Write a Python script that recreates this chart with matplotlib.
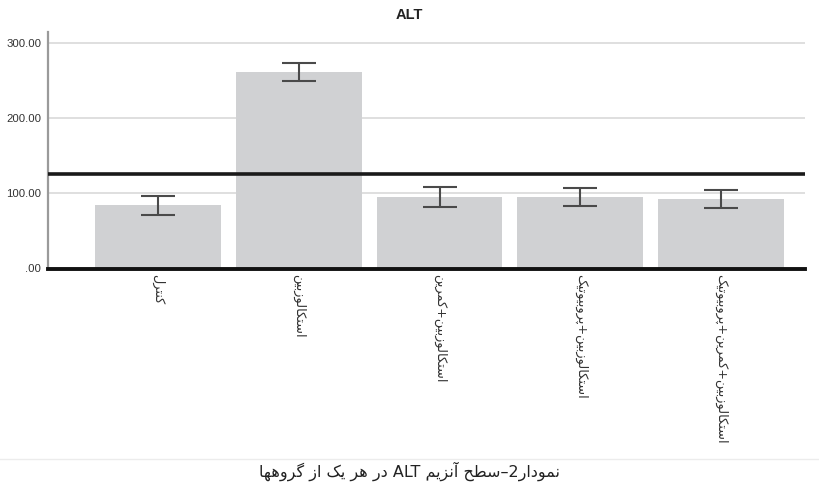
import re
import matplotlib
matplotlib.use("Agg")
import matplotlib.pyplot as plt

# ---------------- data ----------------
categories = [
    "کنترل",
    "استکالوزبین",
    "استکالوزبین+کمرین",
    "استکالوزبین+پروبیوتیک",
    "استکالوزبین+کمرین+پروبیوتیک",
]
means = [84.5, 262.0, 95.0, 95.0, 92.5]
errors = [12.7, 12.0, 13.0, 12.2, 12.4]
reference_line = 126.5
yticks = [0, 100, 200, 300]
ytick_labels = [".00", "100.00", "200.00", "300.00"]
title = "ALT"
caption = "نمودار2–سطح آنزیم ALT در هر یک از گروهها"

# ------------- minimal Persian shaping (presentation forms) -------------
FORMS = {
    'ا': ('\uFE8D', '\uFE8E', None, None),
    'آ': ('\uFE81', '\uFE82', None, None),
    'ب': ('\uFE8F', '\uFE90', '\uFE91', '\uFE92'),
    'پ': ('\uFB56', '\uFB57', '\uFB58', '\uFB59'),
    'ت': ('\uFE95', '\uFE96', '\uFE97', '\uFE98'),
    'ح': ('\uFEA1', '\uFEA2', '\uFEA3', '\uFEA4'),
    'د': ('\uFEA9', '\uFEAA', None, None),
    'ر': ('\uFEAD', '\uFEAE', None, None),
    'ز': ('\uFEAF', '\uFEB0', None, None),
    'س': ('\uFEB1', '\uFEB2', '\uFEB3', '\uFEB4'),
    'ط': ('\uFEC1', '\uFEC2', '\uFEC3', '\uFEC4'),
    'ک': ('\uFB8E', '\uFB8F', '\uFB90', '\uFB91'),
    'گ': ('\uFB92', '\uFB93', '\uFB94', '\uFB95'),
    'ل': ('\uFEDD', '\uFEDE', '\uFEDF', '\uFEE0'),
    'م': ('\uFEE1', '\uFEE2', '\uFEE3', '\uFEE4'),
    'ن': ('\uFEE5', '\uFEE6', '\uFEE7', '\uFEE8'),
    'ه': ('\uFEE9', '\uFEEA', '\uFEEB', '\uFEEC'),
    'و': ('\uFEED', '\uFEEE', None, None),
    'ی': ('\uFBFC', '\uFBFD', '\uFBFE', '\uFBFF'),
}


def shape(run):
    out = []
    n = len(run)
    for i, c in enumerate(run):
        if c not in FORMS:
            out.append(c)
            continue
        iso, fin, ini, med = FORMS[c]
        prev = run[i - 1] if i > 0 else None
        nxt = run[i + 1] if i < n - 1 else None
        jp = prev in FORMS and FORMS[prev][2] is not None
        jn = ini is not None and nxt in FORMS
        if jp and jn:
            out.append(med)
        elif jp:
            out.append(fin)
        elif jn:
            out.append(ini)
        else:
            out.append(iso)
    return ''.join(reversed(out))


def to_visual(text):
    runs = re.split(r'([A-Za-z0-9]+)', text)
    out = []
    for r in runs:
        if not r:
            continue
        if re.fullmatch(r'[A-Za-z0-9]+', r):
            out.append(r)
        else:
            out.append(shape(r))
    return ''.join(reversed(out))


# ---------------- figure ----------------
W, H = 819, 486
fig = plt.figure(figsize=(W / 100, H / 100), dpi=100)
ax = fig.add_axes([48 / W, (H - 268.5) / H, (805 - 48) / W, (268.5 - 32) / H])

x = list(range(len(categories)))
ax.bar(x, means, width=0.895, color="#d0d1d3", zorder=2)
ax.errorbar(x, means, yerr=errors, fmt="none", ecolor="#4a4a4a",
            elinewidth=1.5, capsize=12.5, capthick=1.5, zorder=3)

ax.set_ylim(0, 315)
ax.set_xlim(-0.782, 4.597)

for t in yticks[1:]:
    ax.axhline(t, color="#d9d9d9", lw=1.2, zorder=1)
ax.axhline(0, color="#111111", lw=2.8, zorder=4, clip_on=False)
ax.axhline(reference_line, color="#1a1a1a", lw=2.6, zorder=4)

for s in ["top", "right", "bottom"]:
    ax.spines[s].set_visible(False)
ax.spines["left"].set_color("#9a9a9a")
ax.spines["left"].set_linewidth(1.6)

ax.set_yticks(yticks)
ax.set_yticklabels(ytick_labels, fontsize=8.2, color="#333333",
                   family="Liberation Sans")
ax.tick_params(axis="y", length=0, pad=5)

ax.set_xticks(x)
ax.set_xticklabels([to_visual(c) for c in categories], rotation=-90,
                   ha="center", va="top", fontsize=9.3, color="#333333",
                   family="DejaVu Sans")
ax.tick_params(axis="x", length=0, pad=4)

fig.text(409.5 / W, 1 - 15 / H, title, ha="center", va="center",
         fontsize=10.5, fontweight="bold", color="#222222",
         family="Liberation Sans")

fig.add_artist(plt.Line2D([0, 1], [1 - 459 / H, 1 - 459 / H],
                          color="#ececec", lw=1.0))
fig.text(409.5 / W, 1 - 471 / H, to_visual(caption), ha="center",
         va="center", fontsize=11.5, color="#222222", family="DejaVu Sans")

fig.savefig("out.png", dpi=100)
